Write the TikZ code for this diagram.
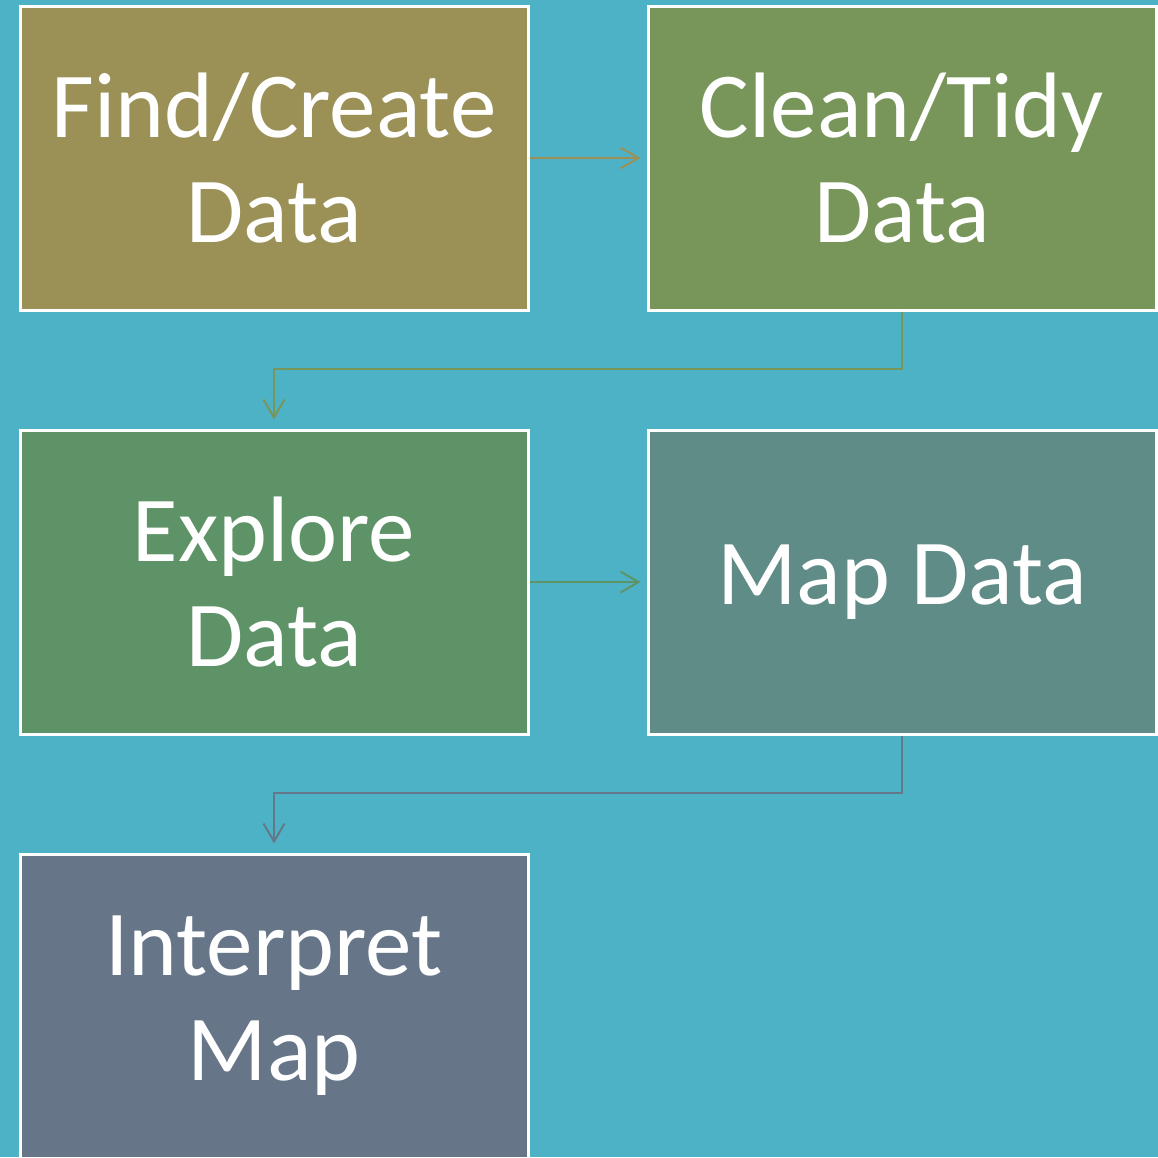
\documentclass[tikz,border=0pt]{standalone}
\usepackage{fontspec}
\setmainfont{Carlito}
\usetikzlibrary{arrows.meta}
\definecolor{bgteal}{HTML}{4EB2C7}
\definecolor{boxA}{HTML}{9B9157}
\definecolor{boxB}{HTML}{78965A}
\definecolor{boxC}{HTML}{5E9368}
\definecolor{boxD}{HTML}{5F8C87}
\definecolor{boxE}{HTML}{667587}
\definecolor{linkD}{HTML}{64788A}
\tikzset{
  stage/.style={draw=white, line width=3pt, minimum width=508pt, minimum height=304pt,
    inner sep=0pt, text=white, align=center, font=\fontsize{93}{105}\selectfont},
  link/.style={line width=2pt, -{Straight Barb[length=18pt,width=21pt,line width=2pt]}},
}
\begin{document}
\begin{tikzpicture}[x=1pt,y=-1pt]
  \useasboundingbox (0,0) rectangle (1158,1157);
  \clip (0,0) rectangle (1158,1157);
  \fill[bgteal] (0,0) rectangle (1158,1157);

  % process stages
  \node[stage, fill=boxA] (find)    at (274,158)  {Find/Create\\Data};
  \node[stage, fill=boxB] (clean)   at (902,158)  {Clean/Tidy\\Data};
  \node[stage, fill=boxC] (explore) at (274,582)  {Explore\\Data};
  \node[stage, fill=boxD] (map)     at (902,582)  {Map Data};
  \node[stage, fill=boxE] (interp)  at (274,1006) {Interpret\\Map};

  % connectors between stages
  \draw[link, boxA, shorten >=6pt] (find) -- (clean);
  \draw[link, boxB, shorten >=9pt] (clean.south) -- ++(0,57) -| (explore.north);
  \draw[link, boxC, shorten >=6pt] (explore) -- (map);
  \draw[link, linkD, shorten >=9pt] (map.south) -- ++(0,57) -| (interp.north);
\end{tikzpicture}
\end{document}
